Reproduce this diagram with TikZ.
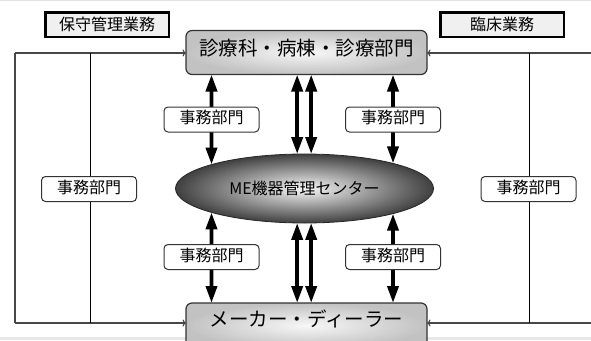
\documentclass[tikz,border=0pt]{standalone}
\usepackage{fontspec}
\setmainfont{Noto Sans CJK JP}
\usetikzlibrary{arrows.meta,shapes.geometric,intersections}
\begin{document}
\begin{tikzpicture}[x=1pt,y=-1pt,
  every node/.style={font=\fontsize{16}{18}\selectfont, inner sep=0pt, outer sep=0pt},
  bigbox/.style={draw=black!80, line width=1.2pt, rounded corners=6pt, inner color=gray!6, outer color=gray!48, minimum width=241pt, minimum height=44pt, font=\fontsize{19.5}{22}\selectfont},
  headbox/.style={draw=black, line width=2.5pt, fill=gray!12, minimum width=123.5pt, minimum height=24.5pt},
  labbox/.style={draw=black!80, line width=1pt, fill=white, rounded corners=4pt, minimum width=95pt, minimum height=25pt},
  dbl/.style={line width=3.7pt, {Triangle[length=17pt,width=11pt]}-{Triangle[length=17pt,width=11pt]}},
  link/.style={line width=1.1pt, draw=black!72},
  inlink/.style={line width=0.9pt, draw=black},
  linkarrow/.style={link, -{To[length=3.5pt,width=7pt]}},
]
\useasboundingbox (0,0) rectangle (591,340);
\clip (0,0) rectangle (591,340);
\fill[white] (0,0) rectangle (591,340);
\draw[gray!22, line width=1.2pt] (0,0.6) -- (591,0.6);
\fill[gray!18] (0,337) rectangle (591,340);

% main shapes
\node[bigbox] (top) at (306.5,52.5) {\raisebox{4.5pt}[\height][\depth]{診療科・病棟・診療部門}};
\node[bigbox, minimum height=45pt] (bot) at (306.5,325.5) {\raisebox{7pt}[\height][\depth]{メーカー・ディーラー}};
\node[ellipse, draw=black!85, line width=0.8pt, inner color=gray!6, outer color=black!75,
      minimum width=258pt, minimum height=69pt, name path=ellp] (ell) at (304.5,188.5) {ME機器管理センター};

% header boxes
\node[headbox] (hL) at (107,24.5) {保守管理業務};
\node[headbox] (hR) at (502,24.5) {臨床業務};

% outer connector corners
\coordinate (L1) at (15,53);
\coordinate (L2) at (15,323);
\coordinate (I1) at (90,53);
\coordinate (I2) at (90,323);
\coordinate (R1) at (591,53);
\coordinate (R2) at (591,323);
\coordinate (J1) at (529,53);
\coordinate (J2) at (529,323);

\draw[link] (L2) -- (L1);
\draw[linkarrow] (L1) -- (top.west |- L1);
\draw[linkarrow] (L2) -- (bot.west |- L2);
\draw[inlink] (I1) -- (I2);
\draw[linkarrow] (R1) -- (top.east |- R1);
\draw[linkarrow] (R2) -- (bot.east |- R2);
\draw[inlink] (J1) -- (J2);

% label centres
\coordinate (cTL) at (211.5,119.5);
\coordinate (cTR) at (393,119.5);
\coordinate (cBL) at (211.5,257);
\coordinate (cBR) at (393,257);

% side double arrows
\path[name path=vL] (cTL |- top.south) -- (cTL |- bot.north);
\path[name intersections={of=ellp and vL, sort by=vL, name=iL}];
\draw[dbl] (cTL |- top.south) -- (iL-1);
\draw[dbl] (iL-2) -- (cBL |- bot.north);

\path[name path=vR] (cTR |- top.south) -- (cTR |- bot.north);
\path[name intersections={of=ellp and vR, sort by=vR, name=iR}];
\draw[dbl] (cTR |- top.south) -- (iR-1);
\draw[dbl] (iR-2) -- (cBR |- bot.north);

% middle double arrows
\draw[dbl] (top.south -| ell.102) -- (ell.102);
\draw[dbl] (top.south -| ell.79) -- (ell.79);
\draw[dbl] (ell.258) -- (bot.north -| ell.258);
\draw[dbl] (ell.281) -- (bot.north -| ell.281);

% labels
\node[labbox] (lTL) at (cTL) {\raisebox{2pt}[\height][\depth]{事務部門}};
\node[labbox] (lTR) at (cTR) {\raisebox{2pt}[\height][\depth]{事務部門}};
\node[labbox] (lBL) at (cBL) {\raisebox{2pt}[\height][\depth]{事務部門}};
\node[labbox] (lBR) at (cBR) {\raisebox{2pt}[\height][\depth]{事務部門}};
\node[labbox] (lL) at (89,189) {\raisebox{2pt}[\height][\depth]{事務部門}};
\node[labbox] (lR) at (528.5,189) {\raisebox{2pt}[\height][\depth]{事務部門}};
\end{tikzpicture}
\end{document}
